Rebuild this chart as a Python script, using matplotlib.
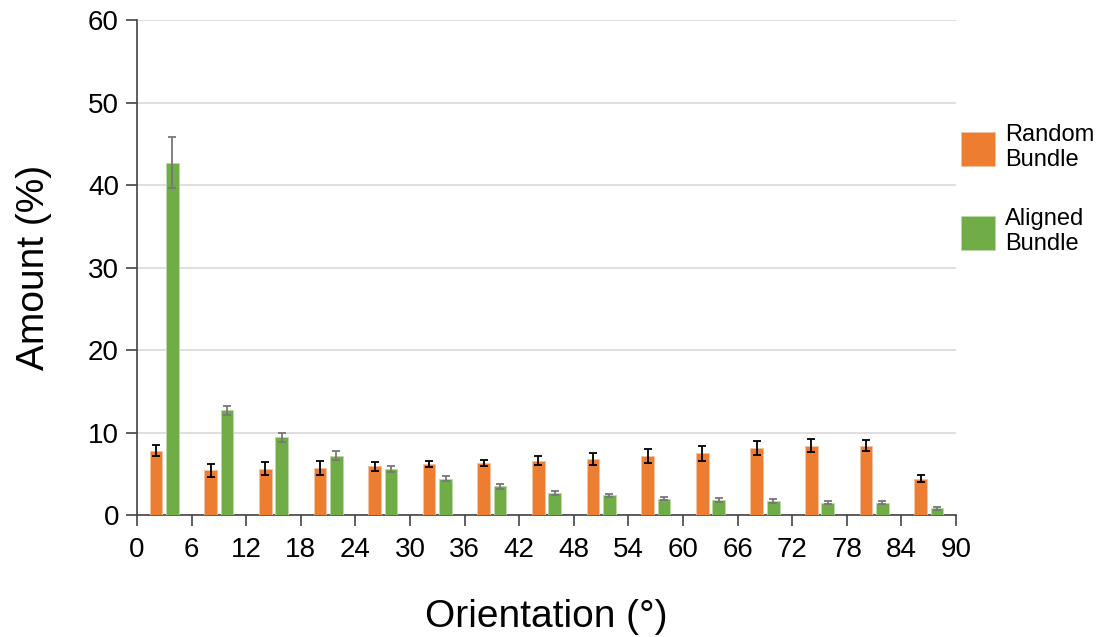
import numpy as np
import matplotlib.pyplot as plt

plt.rcParams['font.family'] = ['Liberation Sans', 'DejaVu Sans']

# bin centres (6 degree bins)
bins = [3, 9, 15, 21, 27, 33, 39, 45, 51, 57, 63, 69, 75, 81, 87]
random_vals = [7.8, 5.4, 5.6, 5.7, 5.9, 6.2, 6.3, 6.6, 6.8, 7.2, 7.5, 8.1, 8.4, 8.4, 4.4]
random_err = [0.7, 0.75, 0.8, 0.8, 0.55, 0.4, 0.4, 0.55, 0.75, 0.85, 0.9, 0.85, 0.8, 0.7, 0.45]
aligned_vals = [42.7, 12.7, 9.4, 7.2, 5.6, 4.4, 3.5, 2.7, 2.4, 2.0, 1.8, 1.7, 1.5, 1.5, 0.8]
aligned_err = [3.1, 0.55, 0.55, 0.55, 0.4, 0.3, 0.3, 0.27, 0.18, 0.2, 0.27, 0.27, 0.22, 0.2, 0.16]
xticks = list(range(0, 91, 6))

orange = '#ED7D31'
green = '#70AD47'

fig = plt.figure(figsize=(11.01, 6.37), dpi=100)
ax = fig.add_axes([0.1244, 0.1915, 0.7440, 0.7771])

x = np.array(bins, dtype=float)
off = 0.9
w = 1.4
ax.bar(x - off, random_vals, w, color=orange, edgecolor='#f6c3a0', linewidth=0.6,
       yerr=random_err, error_kw=dict(ecolor='black', elinewidth=1.3, capsize=3, capthick=1.3),
       label='Random\nBundle', zorder=3)
ax.bar(x + off, aligned_vals, w, color=green, edgecolor='#bcd9a8', linewidth=0.6,
       yerr=aligned_err, error_kw=dict(ecolor='#777777', elinewidth=1.3, capsize=3, capthick=1.3),
       label='Aligned\nBundle', zorder=3)

ax.set_xlim(0, 90)
ax.set_ylim(0, 60)
ax.set_xticks(xticks)
ax.set_yticks(range(0, 61, 10))
ax.yaxis.grid(True, color='#d9d9d9', linewidth=1.2, zorder=0)
ax.set_axisbelow(True)
for s in ['top', 'right']:
    ax.spines[s].set_visible(False)
ax.spines['left'].set_color('#444444')
ax.spines['bottom'].set_color('#444444')
ax.spines['left'].set_linewidth(1.2)
ax.spines['bottom'].set_linewidth(1.2)
ax.tick_params(axis='both', direction='out', length=8, width=1.2, color='#444444',
               labelsize=20, pad=5)
ax.tick_params(axis='x', pad=8)

ax.set_xlabel('Orientation (°)', fontsize=28, labelpad=26)
ax.set_ylabel('Amount (%)', fontsize=28, labelpad=26)

ax.legend(loc='upper left', bbox_to_anchor=(961 / 1101, 1 - 124 / 637),
          bbox_transform=fig.transFigure, frameon=False, fontsize=17, borderpad=0,
          borderaxespad=0, handlelength=1.44, handleheight=1.84, labelspacing=1.55,
          handletextpad=0.42)

fig.savefig('out.png', dpi=100)
